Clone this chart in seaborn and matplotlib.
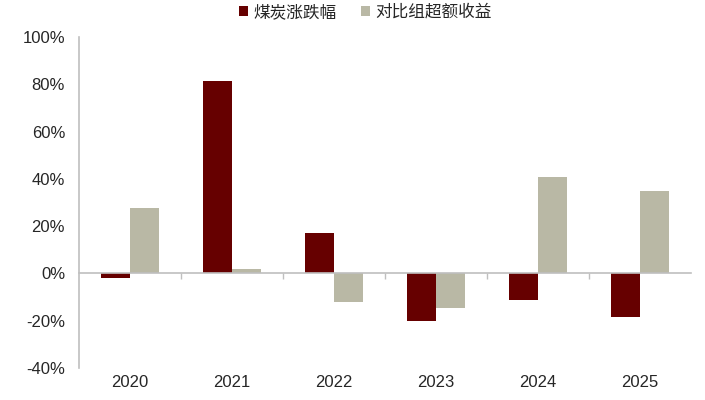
import matplotlib
matplotlib.use("Agg")
import matplotlib.pyplot as plt
import seaborn as sns
import pandas as pd
from matplotlib.ticker import FuncFormatter

years = ["2020", "2021", "2022", "2023", "2024", "2025"]
coal = [-2.0, 81.4, 17.1, -20.1, -11.2, -18.3]
excess = [27.8, 1.9, -11.9, -14.7, 40.8, 34.9]
series = ["煤炭涨跌幅", "对比组超额收益"]
colors = ["#660000", "#B9B8A5"]


def main():
    df = pd.DataFrame({
        "year": years * 2,
        "value": coal + excess,
        "series": [series[0]] * len(years) + [series[1]] * len(years),
    })

    sns.set_style("white")
    plt.rcParams["font.family"] = ["Liberation Sans", "Noto Sans CJK SC", "DejaVu Sans"]

    fig = plt.figure(figsize=(7.05, 4.0), dpi=100)
    ax = fig.add_axes([0.112, 0.08, 0.868, 0.8275])

    sns.barplot(data=df, x="year", y="value", hue="series", hue_order=series,
                palette=colors, width=0.57, saturation=1, ax=ax, legend=True,
                edgecolor="none", linewidth=0)

    ax.set_ylim(-40, 100)
    ax.set_yticks(range(-40, 101, 20))
    ax.yaxis.set_major_formatter(FuncFormatter(lambda v, p: f"{v:.0f}%"))
    ax.set_xlim(-0.5, len(years) - 0.5)
    ax.set_xlabel("")
    ax.set_ylabel("")

    for s in ["top", "right", "bottom"]:
        ax.spines[s].set_visible(False)
    ax.spines["left"].set_color("#BFBFBF")
    ax.spines["left"].set_linewidth(1.2)

    ax.tick_params(axis="y", length=0, labelsize=12, pad=10)
    ax.tick_params(axis="x", length=0, labelsize=12, pad=5)

    # zero line with category-boundary ticks
    zero = (0 - (-40)) / 140
    sec = ax.secondary_xaxis(zero)
    sec.set_zorder(5)
    sec.set_xticks([i + 0.5 for i in range(len(years) - 1)])
    sec.set_xticklabels([])
    sec.spines["bottom"].set_color("#BFBFBF")
    sec.spines["bottom"].set_linewidth(1.2)
    sec.tick_params(axis="x", length=4, width=1, color="#BFBFBF", direction="out")

    handles, labels = ax.get_legend_handles_labels()
    ax.legend(handles, labels, loc="upper center", bbox_to_anchor=(0.468, 1.145),
              ncol=2, frameon=False, handlelength=0.55,
              handleheight=0.55, handletextpad=0.3, columnspacing=1.5,
              prop={"family": ["Noto Sans CJK SC", "DejaVu Sans"], "size": 12})

    fig.savefig("out.png", dpi=100)


if __name__ == "__main__":
    main()
